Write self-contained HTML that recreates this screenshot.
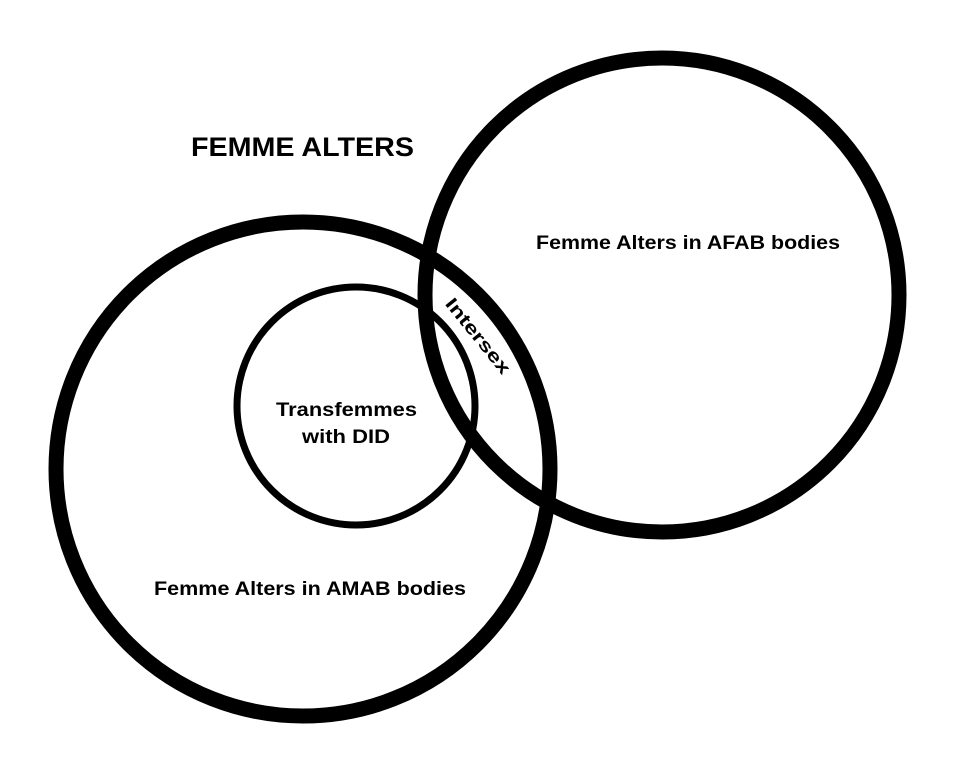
<!DOCTYPE html>
<html><head><style>
body{margin:0;background:#fff;}
svg text{font-family:"Liberation Sans",sans-serif;font-weight:bold;fill:#000;}
</style></head><body>
<svg width="964" height="768" viewBox="0 0 964 768" xmlns="http://www.w3.org/2000/svg">
<rect width="964" height="768" fill="#fff"/>
<circle cx="303" cy="469" r="247" fill="none" stroke="#000" stroke-width="15"/>
<circle cx="662" cy="295" r="237" fill="none" stroke="#000" stroke-width="15"/>
<circle cx="356" cy="406" r="119" fill="none" stroke="#000" stroke-width="7"/>
<text x="191" y="156" font-size="27" textLength="223" lengthAdjust="spacingAndGlyphs">FEMME ALTERS</text>
<text x="536" y="249" font-size="19" textLength="304" lengthAdjust="spacingAndGlyphs">Femme Alters in AFAB bodies</text>
<text x="154" y="595" font-size="19" textLength="312" lengthAdjust="spacingAndGlyphs">Femme Alters in AMAB bodies</text>
<text x="276" y="416" font-size="19" textLength="141" lengthAdjust="spacingAndGlyphs">Transfemmes</text>
<text x="302" y="443" font-size="19" textLength="88" lengthAdjust="spacingAndGlyphs">with DID</text>
<text x="-46" y="6" font-size="18" textLength="92" lengthAdjust="spacingAndGlyphs" transform="translate(478,336) rotate(51)">Intersex</text>
</svg>
</body></html>
